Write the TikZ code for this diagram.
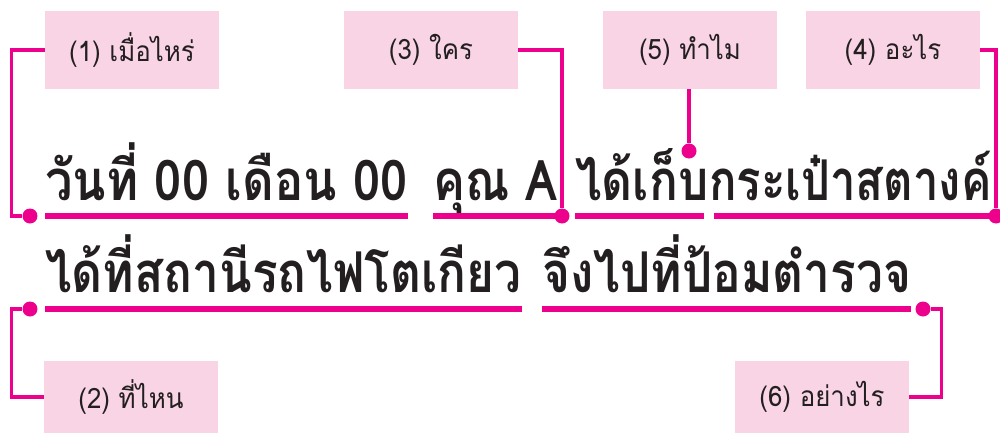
\documentclass[tikz,border=0pt]{standalone}
\usepackage{fontspec}
\newfontfamily\thaifont[Script=Thai, FakeStretch=0.92]{Loma}
\newfontfamily\thaibig[Script=Thai, FakeStretch=0.85]{Loma}
\usepackage{tikz}
\usetikzlibrary{positioning, calc}
\definecolor{qpink}{RGB}{236,0,140}
\definecolor{qboxfill}{RGB}{249,212,229}
\definecolor{qtext}{RGB}{35,31,32}

\begin{document}
\begin{tikzpicture}[
  x=0.02cm, y=-0.02cm,
  qbox/.style={rectangle, fill=qboxfill, minimum width=3.48cm, minimum height=1.56cm,
    inner sep=0pt, font=\thaifont\fontsize{16}{18}\selectfont, text=qtext},
  seg/.style={inner sep=0pt, anchor=base west, text=qtext,
    font=\thaibig\bfseries\fontsize{32}{36}\selectfont},
  conn/.style={qpink, line width=2pt},
  uline/.style={qpink, line width=3.8pt},
  dot/.style={circle, fill=qpink, inner sep=0pt, minimum size=0.3cm}
]
  \useasboundingbox (0,0) rectangle (1000,433);
  % question boxes
  \node[qbox] (b1) at (132,50)  {(1) เมื่อไหร่};
  \node[qbox] (b3) at (431,50)  {(3) ใคร};
  \node[qbox] (b5) at (690,50)  {(5) ทำไม};
  \node[qbox] (b4) at (893,50)  {(4) อะไร};
  \node[qbox, minimum height=1.44cm] (b2) at (131,397) {(2) ที่ไหน};
  \node[qbox, minimum height=1.44cm] (b6) at (822,397) {(6) อย่างไร};
  % sentence parts
  \node[seg] (s1) at (45,200)  {\addfontfeatures{FakeStretch=0.87}วันที่ 00 เดือน 00};
  \node[seg] (s2) at (433,200) {คุณ A};
  \node[seg] (s3) at (575,200) {ได้เก็บ};
  \node[seg] (s4) at (s3.base east) {\addfontfeatures{FakeStretch=0.81}กระเป๋าสตางค์};
  \node[seg] (s5) at (45,292)  {ได้ที่สถานีรถไฟโตเกียว};
  \node[seg] (s6) at (542,292) {จึงไปที่ป้อมตำรวจ};
  % underlines
  \foreach \s/\d in {s1/16, s2/16, s5/17, s6/17}
    \draw[uline] ([yshift=-\d*0.02cm]\s.base west) -- ([yshift=-\d*0.02cm]\s.base east);
  \draw[uline, shorten >=0.1cm] ([yshift=-0.32cm]s3.base west) -- ([yshift=-0.32cm]s3.base east);
  \draw[uline, shorten <=0.1cm] ([yshift=-0.32cm]s4.base west) -- ([yshift=-0.32cm]s4.base east);
  % dots
  \node[dot] (d1) at (30,216)  {};
  \node[dot] (d3) at (562,216) {};
  \node[dot] (d5) at (689,151) {};
  \node[dot] (d4) at (996,216) {};
  \node[dot] (d2) at (30,309)  {};
  \node[dot] (d6) at (923,309) {};
  % connectors
  \draw[conn] (b1.west) -- ++(-33,0) |- (d1);
  \draw[conn] (b3.east) -| (d3);
  \draw[conn] (b5.south -| d5) -- (d5);
  \draw[conn] (b4.east) -| (d4);
  \draw[conn] (b2.west) -- ++(-32,0) |- (d2);
  \draw[conn] (b6.east) -- ++(32,0) |- (d6);
\end{tikzpicture}
\end{document}
